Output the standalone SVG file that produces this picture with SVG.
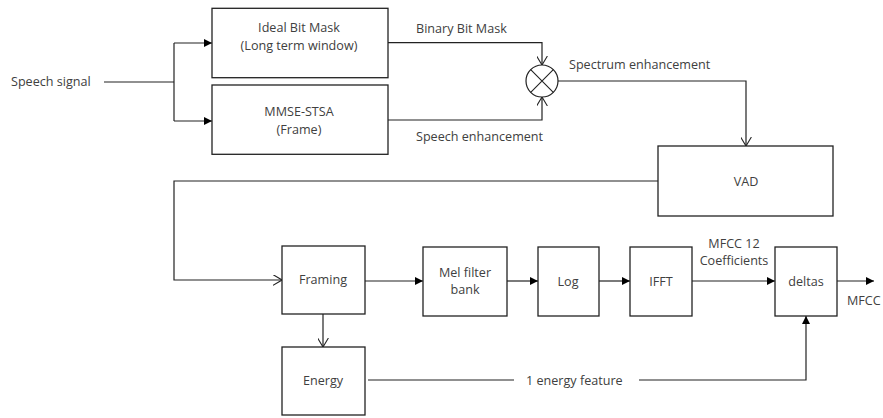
<svg xmlns="http://www.w3.org/2000/svg" width="883" height="418" viewBox="0 0 883 418">
<defs>
<marker id="fa" viewBox="0 0 10 10" refX="10" refY="5" markerWidth="9" markerHeight="8" markerUnits="userSpaceOnUse" orient="auto"><path d="M0,0 L10,5 L0,10 z" fill="#000"/></marker>
<marker id="oa" viewBox="0 0 10 12" refX="10" refY="6" markerWidth="9" markerHeight="11" markerUnits="userSpaceOnUse" orient="auto"><path d="M0,0 L10,6 L0,12" fill="none" stroke="#222" stroke-width="1.2"/></marker>
</defs>
<style>
rect{fill:#fff;stroke:#222;stroke-width:1.3}
text{font-family:"Open Sans","Noto Sans","Liberation Sans",sans-serif;font-size:12.6px;fill:#404040}
.c{text-anchor:middle}
#connectors path{fill:none;stroke:#222;stroke-width:1.2}
</style>
<rect x="0" y="0" width="883" height="418" style="fill:#fff;stroke:none"/>
<g id="connectors">
<path d="M104,82 H174"/>
<path d="M174,43 V121"/>
<path d="M174,43 H212" marker-end="url(#fa)"/>
<path d="M174,121 H212" marker-end="url(#fa)"/>
<path d="M388,42.7 H542 V65" marker-end="url(#oa)"/>
<path d="M388,120 H542 V97" marker-end="url(#oa)"/>
<path d="M558,81 H746 V146" marker-end="url(#oa)"/>
<path d="M658,181 H174 V280 H282" marker-end="url(#oa)"/>
<path d="M365,281 H423" marker-end="url(#fa)"/>
<path d="M507,281 H538" marker-end="url(#fa)"/>
<path d="M599,281 H630" marker-end="url(#fa)"/>
<path d="M692,281 H775" marker-end="url(#fa)"/>
<path d="M837,281 H874" marker-end="url(#fa)"/>
<path d="M323,314 V347" marker-end="url(#oa)"/>
<path d="M368,380 H514"/>
<path d="M639,380 H806 V316" marker-end="url(#fa)"/>
</g>
<g id="speech-signal"><text x="11" y="86">Speech signal</text></g>
<g id="ideal-bit-mask"><rect x="212" y="8.3" width="176" height="69.4"/><text class="c" x="299" y="32">Ideal Bit Mask</text><text class="c" x="299" y="50">(Long term window)</text></g>
<g id="mmse-stsa"><rect x="212" y="85" width="176" height="69.3"/><text class="c" x="299" y="116">MMSE-STSA</text><text class="c" x="299" y="134">(Frame)</text></g>
<g id="multiplier"><circle cx="542" cy="81" r="16" fill="#fff" stroke="#222" stroke-width="1.2"/><path d="M530.7,69.7 L553.3,92.3 M553.3,69.7 L530.7,92.3" stroke="#222" stroke-width="1.1"/></g>
<g id="labels">
<text x="416" y="33">Binary Bit Mask</text>
<text x="416" y="141">Speech enhancement</text>
<text x="569" y="69">Spectrum enhancement</text>
<text class="c" x="734" y="247.5">MFCC 12</text>
<text class="c" x="734" y="265">Coefficients</text>
<text x="847" y="305">MFCC</text>
<text x="526" y="385">1 energy feature</text>
</g>
<g id="vad"><rect x="658" y="146" width="175" height="70"/><text class="c" x="746" y="186">VAD</text></g>
<g id="framing"><rect x="282" y="246" width="83" height="68"/><text class="c" x="323" y="284">Framing</text></g>
<g id="mel-filter-bank"><rect x="423" y="247" width="84" height="69"/><text class="c" x="465" y="276.5">Mel filter</text><text class="c" x="465" y="294">bank</text></g>
<g id="log"><rect x="538" y="247" width="61" height="69"/><text class="c" x="568" y="286">Log</text></g>
<g id="ifft"><rect x="630" y="247" width="62" height="69"/><text class="c" x="661" y="286">IFFT</text></g>
<g id="deltas"><rect x="775" y="247" width="62" height="69"/><text class="c" x="806" y="286">deltas</text></g>
<g id="energy"><rect x="282" y="347" width="83" height="68"/><text class="c" x="323" y="385">Energy</text></g>
</svg>
